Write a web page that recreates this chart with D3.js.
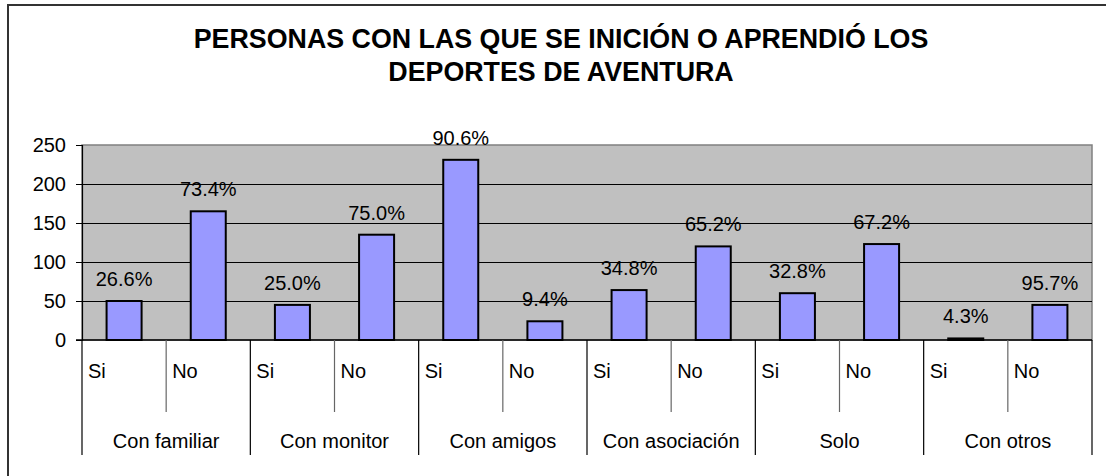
<!DOCTYPE html>
<html>
<head>
<meta charset="utf-8">
<script src="https://cdn.jsdelivr.net/npm/d3@7"></script>
<style>
  html, body { margin: 0; padding: 0; background: #fff; }
  svg { display: block; font-family: "Liberation Sans", Arial, sans-serif; }
</style>
</head>
<body>
<svg id="chart" width="1106" height="476"></svg>
<script>
const titleLines = ["PERSONAS CON LAS QUE SE INICIÓN O APRENDIÓ LOS", "DEPORTES DE AVENTURA"];
const groups = ["Con familiar", "Con monitor", "Con amigos", "Con asociación", "Solo", "Con otros"];
const answers = ["Si", "No"];
const values = [50, 165, 45, 135, 231, 24, 64, 120, 60, 123, 2, 45];
const pctLabels = ["26.6%", "73.4%", "25.0%", "75.0%", "90.6%", "9.4%", "34.8%", "65.2%", "32.8%", "67.2%", "4.3%", "95.7%"];
const yTicks = [0, 50, 100, 150, 200, 250];

(function () {
const svg = d3.select("#chart");
const pLeft = 82, pRight = 1092, pTop = 145, pBottom = 340;

// outer border
svg.append("rect").attr("x", 8).attr("y", 5).attr("width", 1110).attr("height", 480)
  .attr("fill", "none").attr("stroke", "#333").attr("stroke-width", 2);

// title
svg.append("text").attr("x", 561).attr("y", 48).attr("text-anchor", "middle")
  .attr("font-size", 26.8).attr("font-weight", "bold").text(titleLines[0]);
svg.append("text").attr("x", 561).attr("y", 81).attr("text-anchor", "middle")
  .attr("font-size", 26.8).attr("font-weight", "bold").text(titleLines[1]);

const slots = [];
groups.forEach(g => answers.forEach(a => slots.push(g + "|" + a)));

const y = d3.scaleLinear().domain([0, 250]).range([pBottom, pTop]);
const xSlot = d3.scaleBand().domain(slots).range([pLeft, pRight]).padding(0);
const xBar = d3.scaleBand().domain(slots).range([pLeft, pRight]).paddingInner(0.584).paddingOuter(0.292);
const xGroup = d3.scaleBand().domain(groups).range([pLeft, pRight]).padding(0);

// plot background
svg.append("rect").attr("x", pLeft).attr("y", pTop).attr("width", pRight - pLeft).attr("height", pBottom - pTop)
  .attr("fill", "#C0C0C0").attr("stroke", "#808080").attr("stroke-width", 1.5);

// gridlines
svg.append("g").selectAll("line").data(yTicks.filter(t => t > 0 && t < 250)).join("line")
  .attr("x1", pLeft).attr("x2", pRight)
  .attr("y1", d => Math.round(y(d)) + 0.5).attr("y2", d => Math.round(y(d)) + 0.5)
  .attr("stroke", "#000").attr("stroke-width", 1);

// y axis
const yAxis = d3.axisLeft(y).tickValues(yTicks).tickSize(6).tickPadding(10);
const yg = svg.append("g").attr("transform", `translate(${pLeft},0)`).call(yAxis);
yg.select(".domain").attr("stroke", "#000").attr("stroke-width", 1.2);
yg.selectAll(".tick line").attr("stroke", "#000");
yg.selectAll(".tick text").attr("font-size", 20).attr("fill", "#000")
  .attr("font-family", "'Liberation Sans', Arial, sans-serif");

// bars
svg.append("g").selectAll("rect").data(values).join("rect")
  .attr("x", (d, i) => xBar(slots[i]))
  .attr("y", d => y(d))
  .attr("width", xBar.bandwidth())
  .attr("height", d => y(0) - y(d))
  .attr("fill", "#9999FF").attr("stroke", "#000").attr("stroke-width", 2);

// value labels
svg.append("g").selectAll("text").data(values).join("text")
  .attr("x", (d, i) => xBar(slots[i]) + xBar.bandwidth() / 2)
  .attr("y", d => y(d) - 15)
  .attr("text-anchor", "middle").attr("font-size", 20).attr("fill", "#000")
  .text((d, i) => pctLabels[i]);

// x axis line
svg.append("line").attr("x1", pLeft - 6).attr("x2", pRight).attr("y1", pBottom).attr("y2", pBottom)
  .attr("stroke", "#000").attr("stroke-width", 1.5);

// inner slot dividers
svg.append("g").selectAll("line").data(slots.filter((s, i) => i % 2 === 1)).join("line")
  .attr("x1", d => xSlot(d)).attr("x2", d => xSlot(d))
  .attr("y1", pBottom).attr("y2", 412)
  .attr("stroke", "#666").attr("stroke-width", 1.2);

// group dividers
const groupEdges = groups.map(g => xGroup(g)).concat([pRight]);
svg.append("g").selectAll("line").data(groupEdges).join("line")
  .attr("x1", d => d).attr("x2", d => d)
  .attr("y1", pBottom).attr("y2", 455)
  .attr("stroke", "#000").attr("stroke-width", 1.2);

// answer labels
svg.append("g").selectAll("text").data(slots).join("text")
  .attr("x", d => xSlot(d) + 6)
  .attr("y", 378)
  .attr("font-size", 20).attr("fill", "#000")
  .text(d => d.split("|")[1]);

// group labels
svg.append("g").selectAll("text").data(groups).join("text")
  .attr("x", d => xGroup(d) + xGroup.bandwidth() / 2)
  .attr("y", 448)
  .attr("text-anchor", "middle").attr("font-size", 20).attr("fill", "#000")
  .text(d => d);
})();
</script>
</body>
</html>
